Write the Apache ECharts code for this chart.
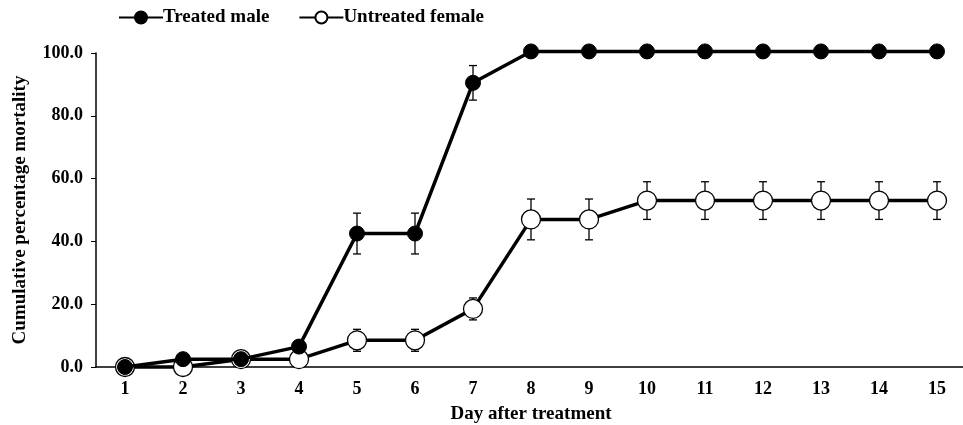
<!DOCTYPE html>
<html><head><meta charset="utf-8">
<script src="https://cdn.jsdelivr.net/npm/echarts@6/dist/echarts.min.js"></script>
<style>html,body{margin:0;padding:0;background:#fff}#c{width:963px;height:425px}</style>
</head><body><div id="c"></div>
<script>
const days = ['1','2','3','4','5','6','7','8','9','10','11','12','13','14','15'];
const yTicks = [0, 20, 40, 60, 80, 100];
const maleValues = [0, 2.5, 2.5, 6.5, 42.5, 42.5, 90.5, 100.5, 100.5, 100.5, 100.5, 100.5, 100.5, 100.5, 100.5];
const maleErr =    [0, 0, 0, 1, 6.5, 6.5, 5.5, 0, 0, 0, 0, 0, 0, 0, 0];
const femaleValues = [0, 0, 2.5, 2.5, 8.5, 8.5, 18.5, 47, 47, 53, 53, 53, 53, 53, 53];
const femaleErr =    [0, 0, 0, 0, 3.5, 3.5, 3.5, 6.5, 6.5, 6, 6, 6, 6, 6, 6];
const seriesNames = ['Treated male', 'Untreated female'];

const font = 'Liberation Serif, Times New Roman, serif';
const chart = echarts.init(document.getElementById('c'));

function errSeries(vals, errs) {
  const data = vals.map((v, i) => [i, v - errs[i], v + errs[i]]).filter((d, i) => errs[i] > 0);
  return {
    type: 'custom',
    silent: true,
    z: 1,
    clip: false,
    renderItem: function (params, api) {
      const x = api.value(0);
      const lo = api.coord([x, api.value(1)]);
      const hi = api.coord([x, api.value(2)]);
      const w = 4;
      const st = { stroke: '#000', lineWidth: 1.3 };
      return { type: 'group', children: [
        { type: 'line', shape: { x1: lo[0], y1: lo[1], x2: hi[0], y2: hi[1] }, style: st },
        { type: 'line', shape: { x1: lo[0] - w, y1: lo[1], x2: lo[0] + w, y2: lo[1] }, style: st },
        { type: 'line', shape: { x1: hi[0] - w, y1: hi[1], x2: hi[0] + w, y2: hi[1] }, style: st }
      ]};
    },
    data: data
  };
}

chart.setOption({
  animation: false,
  backgroundColor: '#fff',
  grid: { left: 96, right: -3, top: 53, bottom: 58, containLabel: false, outerBoundsMode: 'none' },
  legend: {
    left: 113, top: 3,
    itemWidth: 44, itemHeight: 15, itemGap: 29,
    textStyle: { fontFamily: font, fontWeight: 'bold', fontSize: 19, color: '#000', padding: [0, 0, 0, -5] },
    data: seriesNames
  },
  xAxis: {
    type: 'category', data: days, boundaryGap: true,
    name: 'Day after treatment', nameLocation: 'middle', nameGap: 38,
    nameTextStyle: { fontFamily: font, fontWeight: 'bold', fontSize: 19, color: '#000' },
    axisLine: { lineStyle: { color: '#000', width: 1.5 } },
    axisTick: { alignWithLabel: false, length: 6, lineStyle: { color: '#000' } },
    axisLabel: { fontFamily: font, fontWeight: 'bold', fontSize: 18, color: '#000', margin: 13 }
  },
  yAxis: {
    type: 'value', min: 0, max: 100, interval: 20,
    name: 'Cumulative percentage mortality', nameLocation: 'middle', nameGap: 66,
    nameTextStyle: { fontFamily: font, fontWeight: 'bold', fontSize: 19, color: '#000' },
    axisLine: { show: true, lineStyle: { color: '#000', width: 1.5 } },
    axisTick: { show: true, length: 5, lineStyle: { color: '#000' } },
    splitLine: { show: false },
    axisLabel: { fontFamily: font, fontWeight: 'bold', fontSize: 18, color: '#000', margin: 13,
      formatter: v => yTicks.includes(v) ? v.toFixed(1) : '' }
  },
  series: [
    errSeries(maleValues, maleErr),
    errSeries(femaleValues, femaleErr),
    {
      name: seriesNames[0], type: 'line', data: maleValues, z: 3, clip: false,
      symbol: 'circle', symbolSize: 15,
      lineStyle: { color: '#000', width: 3.5 },
      itemStyle: { color: '#000', borderColor: '#000', borderWidth: 1 }
    },
    {
      name: seriesNames[1], type: 'line', data: femaleValues, z: 2, clip: false,
      symbol: 'circle', symbolSize: 19,
      lineStyle: { color: '#000', width: 3.5 },
      itemStyle: { color: '#fff', borderColor: '#000', borderWidth: 1.3 }
    }
  ]
});
</script>
</body></html>
